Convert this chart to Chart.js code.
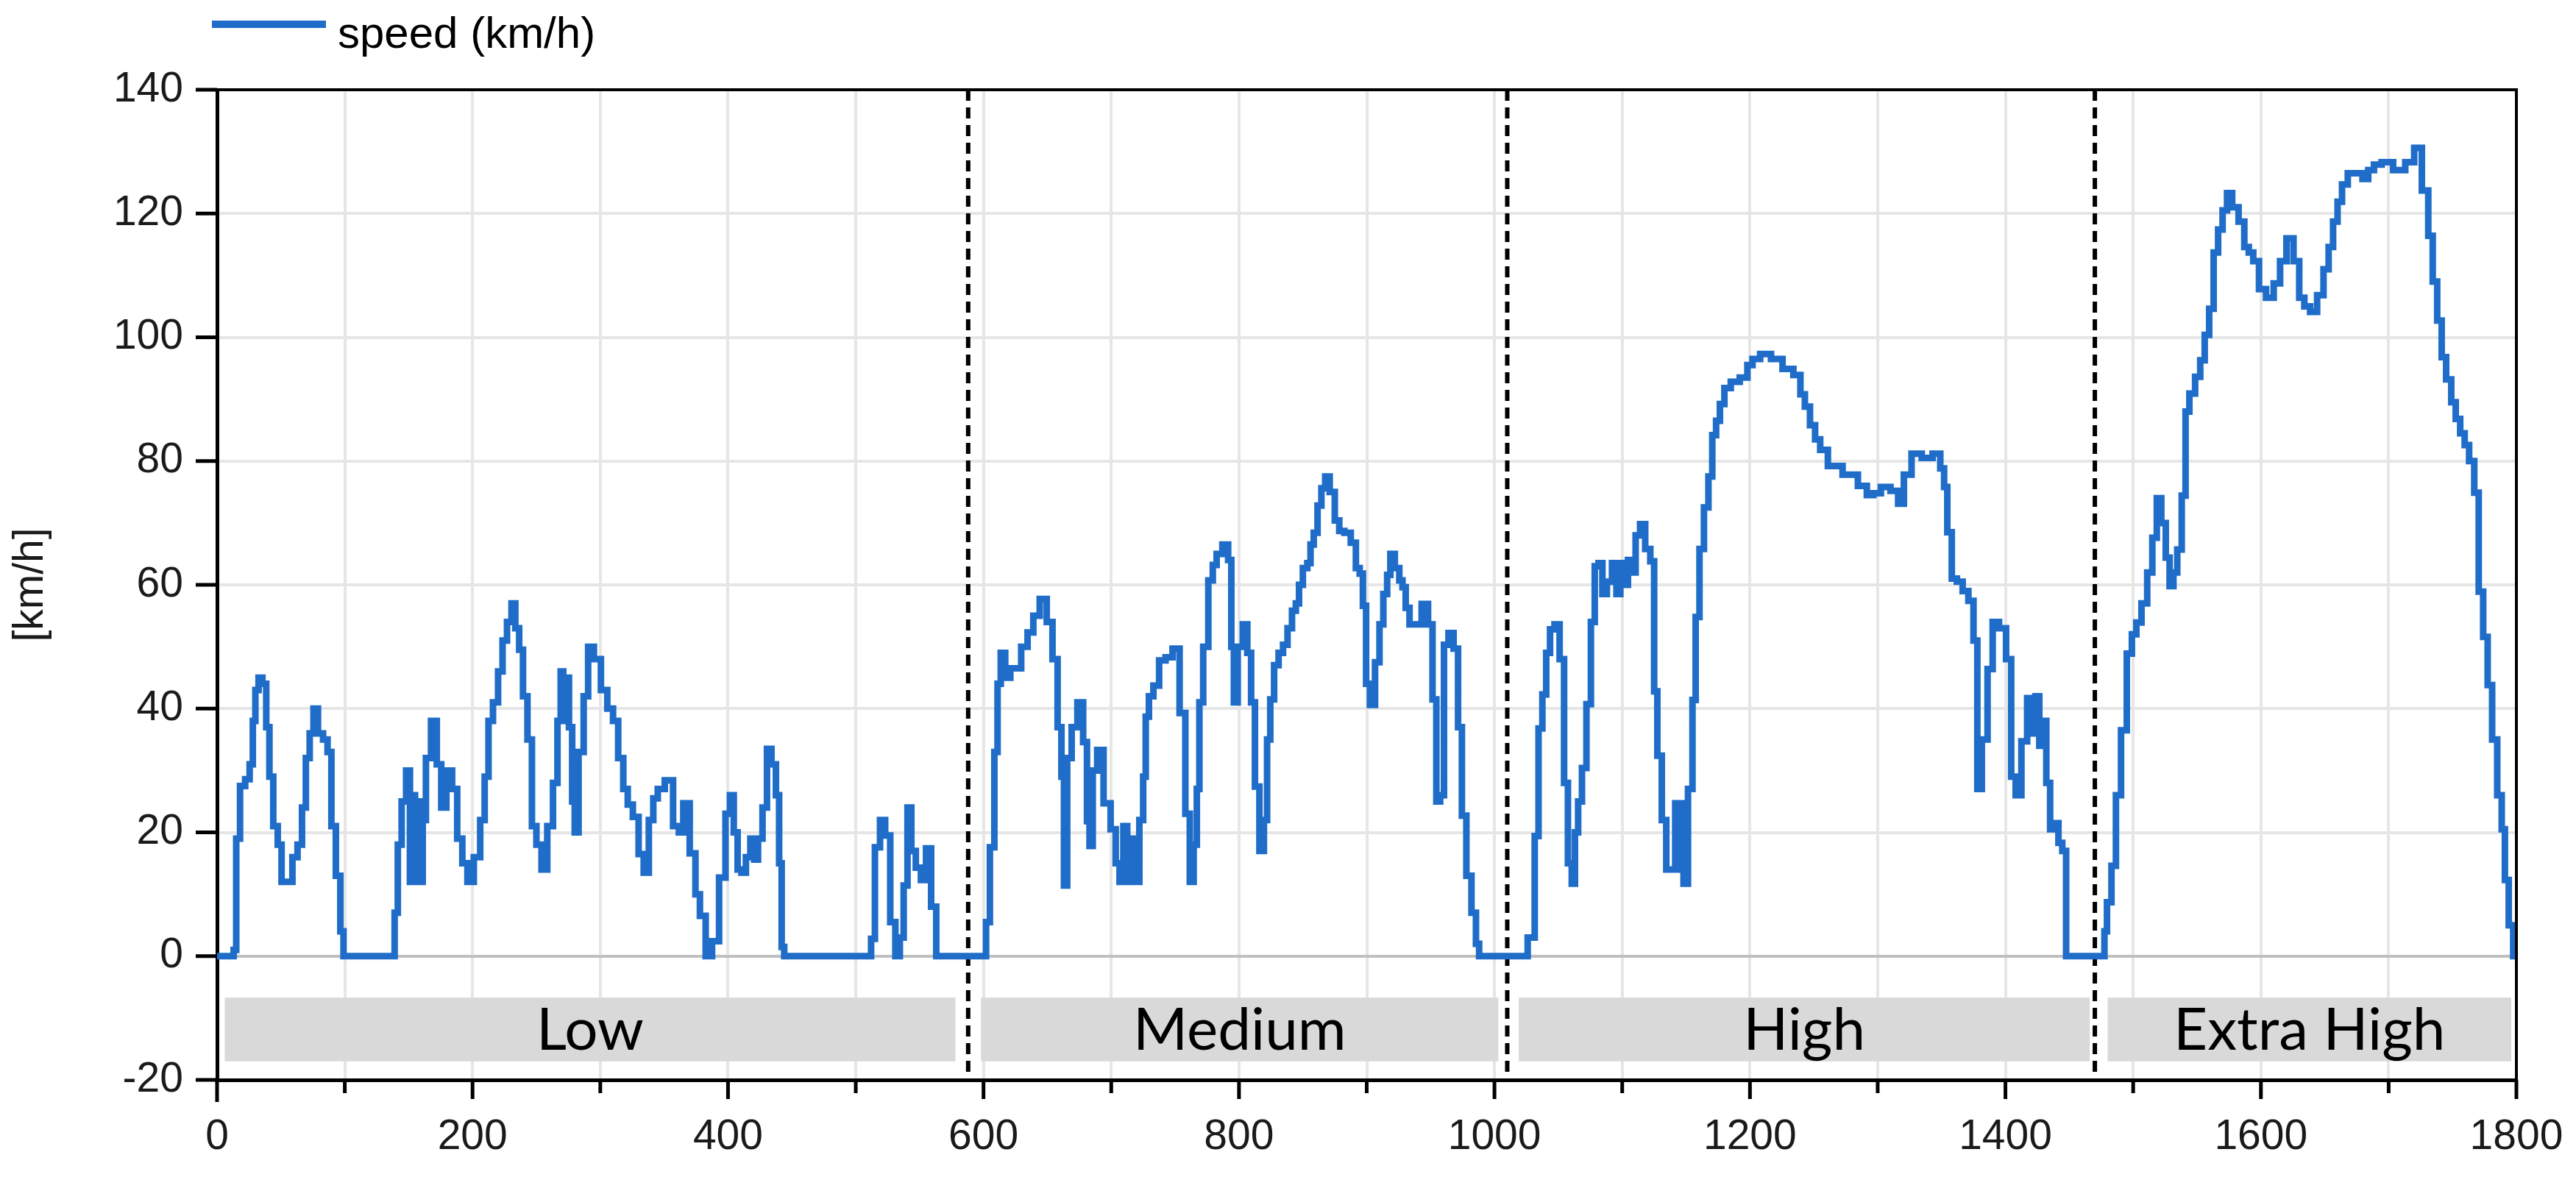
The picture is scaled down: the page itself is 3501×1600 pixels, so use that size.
<!DOCTYPE html>
<html>
<head>
<meta charset="utf-8">
<title>speed (km/h)</title>
<script src="https://cdn.jsdelivr.net/npm/chart.js@4.4.1/dist/chart.umd.min.js"></script>
<style>
  html, body { margin: 0; padding: 0; background: #fff; }
  #wrap { width: 3501px; height: 1600px; }
</style>
</head>
<body>
<div id="wrap"><canvas id="speedChart" width="3501" height="1600"></canvas></div>
<script>
// === DATA (seconds / km/h) ===
const lowTime  = [0, 12, 14, 16, 20, 24, 27, 29, 31, 34, 37, 40, 42, 46, 49, 52, 57, 61, 65, 68, 71, 74, 77, 81, 85, 88, 91, 95, 98, 100,
  138, 140, 143, 146, 150, 152, 154, 156, 158, 160, 162, 165, 170, 174, 177, 182, 186, 190, 194, 198, 204, 208, 211, 214, 218, 222, 225,
  229, 232, 235, 238, 241, 245, 248, 252, 256, 261, 265, 268, 270, 272, 274, 277, 279, 281, 285, 289, 292, 298, 303, 308, 312, 316, 320,
  323, 328, 332, 336, 340, 343, 347, 354, 360, 363, 367, 373, 376, 380, 385, 390, 396, 400, 403, 406, 409, 412, 416, 419, 422, 425, 429,
  432, 436, 439, 441, 443, 445, 511, 513, 517, 521, 525, 529, 533, 536, 539, 542, 545, 549, 553, 557, 561, 565, 589];
const lowSpeed = [0, 0, 1, 19, 27.5, 28.6, 31, 38, 43, 45, 44, 37, 29, 21, 18, 12, 12, 16, 18, 24, 32, 36, 40, 36, 35, 33, 21, 13, 4, 0,
  0, 7, 18, 25, 30, 12, 26, 12, 25, 12, 22, 32, 38, 31, 24, 30, 27, 19, 15, 12, 16, 22, 29, 38, 41, 46, 51,
  54, 57, 53, 49.5, 42, 35, 21, 18, 14, 21, 28, 38, 46, 38, 45, 37, 25, 20, 33, 42, 50, 48, 43, 40, 38, 32, 27,
  24.5, 22.5, 16.5, 13.5, 22, 25.5, 27, 28.4, 21, 20, 24.7, 16.6, 10, 6.5, 0, 2.4, 12.7, 23, 26, 20, 14, 13.5, 16, 19, 15.6, 19, 24,
  33.5, 31, 26, 15, 1.5, 0, 0, 2.8, 17.6, 22, 19.5, 5.5, 0, 3, 11.4, 24, 17, 14.3, 12.3, 17.4, 8, 0, 0];

const mediumTime  = [601, 603, 607, 610, 612, 615, 619, 623, 627, 632, 637, 641, 647, 652, 656, 660, 662, 664, 667, 671, 676, 680, 682,
  684, 687, 691, 697, 702, 705, 708, 711, 714, 717, 720, 724, 726, 728, 731, 735, 740, 745, 751, 756, 760, 763, 766, 768, 770, 774, 778,
  781, 784, 790, 793, 795, 797, 801, 805, 808, 811, 814, 818, 821, 823, 826, 829, 833, 836, 840, 843, 846, 848, 852, 855, 857, 860, 863,
  866, 869, 873, 877, 880, 885, 890, 893, 896, 898, 901, 904, 909, 911, 915, 917, 920, 924, 927, 929, 932, 935, 940, 946, 950, 953, 956,
  959, 962, 966, 970, 973, 976, 980, 984, 987, 989, 1022];
const mediumSpeed = [0, 5.5, 17.6, 33, 44, 49, 45, 46.5, 46.5, 50, 52.3, 55, 57.7, 54, 48, 37, 29, 11.4, 32, 37, 41, 34.6, 21.8,
  17.8, 30, 33.3, 24.7, 20.5, 15, 12, 21, 12, 19, 12, 22, 29, 38.7, 42, 43.7, 47.8, 48.3, 49.7, 39.3, 23, 12, 18, 27, 41, 50, 60.7,
  63.2, 65, 66.5, 64, 50, 41, 50, 53.6, 49, 41, 27.4, 17, 22, 35, 41.5, 47, 49, 50.3, 53, 55.8, 57, 60, 62.7, 63.5, 66.5, 68.4, 72.8,
  75.6, 77.5, 75, 70.4, 68.7, 68.4, 66.8, 62.7, 61.8, 56.6, 44, 40.6, 47.5, 53.6, 58.5, 61.6, 65, 62.7, 60.7, 59.6, 56.3, 53.6, 53.6, 56.9, 53.6, 41.5, 25,
  26, 50.3, 52.2, 49.7, 37, 22.7, 13, 7, 2, 0, 0];

const highTime  = [1030, 1033, 1036, 1039, 1042, 1045, 1049, 1053, 1056, 1059, 1062, 1064, 1067, 1070, 1074, 1077, 1080, 1083, 1086,
  1090, 1094, 1097, 1100, 1103, 1106, 1109, 1112, 1116, 1120, 1124, 1126, 1129, 1133, 1136, 1140, 1143, 1145, 1147, 1149, 1154, 1156,
  1159, 1162, 1166, 1169, 1172, 1175, 1178, 1182, 1188, 1196, 1200, 1204, 1212, 1221, 1230, 1238, 1241, 1245, 1249, 1253, 1257, 1265,
  1280, 1289, 1294, 1299, 1306, 1314, 1318, 1323, 1330, 1339, 1347, 1351, 1353, 1356, 1360, 1364, 1369, 1373, 1377, 1379, 1384, 1388,
  1392, 1398, 1403, 1406, 1410, 1415, 1419, 1422, 1425, 1428, 1431, 1433, 1437, 1440, 1443, 1446, 1449, 1477];
const highSpeed = [3, 19.4, 36.8, 42.3, 49, 52.8, 53.6, 48, 28, 15, 11.7, 20, 25, 30.4, 40.7, 54, 63, 63.5, 58.5,
  60.5, 63.5, 58.5, 63.5, 60, 64, 62, 68, 69.8, 65.8, 63.8, 42.8, 32.4, 22, 14, 14, 24.7, 14, 24.7, 11.7, 27, 41.4,
  54.8, 65.8, 72.5, 77.5, 84.2, 86.5, 89.2, 91.8, 92.8, 93.5, 95.5, 96.5, 97.3, 96.5, 94.9, 93.9, 90.8, 88.8, 85.8, 83.5, 81.8, 79.2,
  77.8, 76, 74.5, 74.8, 75.8, 75.2, 73.1, 77.8, 81.2, 80.5, 81.2, 78.8, 75.8, 68.5, 61, 60.5, 59, 57.4, 51, 27, 35, 46.4,
  54, 53, 48, 29, 26, 34.7, 41.7, 36, 42, 34, 38, 28, 20.5, 21.5, 18.3, 17, 0, 0];

const extraTime  = [1478, 1481, 1485, 1488, 1493, 1497, 1501, 1504, 1509, 1513, 1517, 1520, 1524, 1527, 1530, 1533, 1536, 1540, 1542,
  1546, 1551, 1554, 1558, 1561, 1565, 1568, 1572, 1575, 1580, 1585, 1589, 1592, 1596, 1601, 1607, 1613, 1617, 1623, 1628, 1632, 1636,
  1641, 1647, 1651, 1655, 1658, 1662, 1665, 1671, 1677, 1682, 1686, 1691, 1698, 1709, 1717, 1723, 1729, 1733, 1736, 1740, 1743, 1747,
  1751, 1754, 1758, 1761, 1765, 1769, 1772, 1776, 1779, 1783, 1787, 1790, 1792, 1796, 1799, 1800];
const extraSpeed = [4, 8.7, 14.6, 26, 36.5, 48.9, 52, 53.9, 57, 62, 67.6, 74, 70, 64.4, 59.8, 62, 65.7, 74.4, 88,
  90.9, 93.6, 96.3, 100.4, 104.6, 113.7, 117.4, 120.5, 123.3, 121, 118.7, 114.6, 113.7, 112.3, 107.8, 106.4, 108.7, 112.3, 116, 112.3, 106.4, 105,
  104.1, 106.8, 111, 114.6, 118.7, 121.9, 124.7, 126.5, 126.5, 125.6, 127, 127.9, 128.3, 127, 128.3, 130.6, 123.7, 116.4, 109, 102.7, 96.8, 93.2,
  89.5, 86.8, 84.5, 82.6, 80, 74.9, 58.9, 51.6, 43.8, 35, 26, 20.5, 12.3, 5, 0, 0];

// phases: names, band extents (s) and the dashed boundaries between them
const phaseNames = ['Low', 'Medium', 'High', 'Extra High'];
const phaseFrom  = [6, 598, 1019, 1480];
const phaseTo    = [578, 1003, 1466, 1796];
const phaseLines = [588, 1010, 1470];
const bandTop = -6.7, bandBottom = -17;

const xTickLabels = [0, 200, 400, 600, 800, 1000, 1200, 1400, 1600, 1800];

// === BUILD POINTS ===
const points = [];
[[lowTime, lowSpeed], [mediumTime, mediumSpeed], [highTime, highSpeed], [extraTime, extraSpeed]].forEach(([ts, vs]) => {
  ts.forEach((t, i) => points.push({ x: t, y: vs[i] }));
});

const LINE_BLUE = '#1f6dc8';
const TICK_FONT = { family: "'Liberation Sans', Arial, sans-serif", size: 57 };

// === PHASE BANDS + FRAME + LEGEND ===
const phasePlugin = {
  id: 'phases',
  beforeDatasetsDraw(chart) {
    const { ctx, chartArea: a, scales: { x, y } } = chart;
    ctx.save();
    // grey bands with labels
    const yT = y.getPixelForValue(bandTop), yB = y.getPixelForValue(bandBottom);
    ctx.font = "80px Lato, 'Open Sans', sans-serif";
    ctx.textAlign = 'center';
    ctx.textBaseline = 'alphabetic';
    phaseNames.forEach((name, i) => {
      const x0 = x.getPixelForValue(phaseFrom[i]), x1 = x.getPixelForValue(phaseTo[i]);
      ctx.fillStyle = '#d9d9d9';
      ctx.fillRect(x0, yT, x1 - x0, yB - yT);
      ctx.fillStyle = '#000';
      ctx.fillText(name, (x0 + x1) / 2, (yT + yB) / 2 + 28);
    });
    // dashed phase boundaries
    ctx.strokeStyle = '#000';
    ctx.lineWidth = 6;
    ctx.setLineDash([15, 9]);
    phaseLines.forEach(t => {
      const px = x.getPixelForValue(t);
      ctx.beginPath();
      ctx.moveTo(px, a.top);
      ctx.lineTo(px, a.bottom);
      ctx.stroke();
    });
    ctx.restore();
  },
  afterDraw(chart) {
    const { ctx, chartArea: a, scales: { x, y } } = chart;
    ctx.save();
    ctx.strokeStyle = '#000';
    // top + right frame
    ctx.lineWidth = 4;
    ctx.beginPath();
    ctx.moveTo(a.left, a.top);
    ctx.lineTo(a.right, a.top);
    ctx.lineTo(a.right, a.bottom);
    ctx.stroke();
    // tick marks
    ctx.lineWidth = 5;
    for (let t = 0; t <= 1800; t += 100) {
      const px = x.getPixelForValue(t);
      const len = t === 0 ? 30 : (t % 200 === 0 ? 26 : 18);
      ctx.beginPath();
      ctx.moveTo(px, a.bottom);
      ctx.lineTo(px, a.bottom + len);
      ctx.stroke();
    }
    for (let v = -20; v <= 140; v += 20) {
      const py = y.getPixelForValue(v);
      ctx.beginPath();
      ctx.moveTo(a.left - 29, py);
      ctx.lineTo(a.left, py);
      ctx.stroke();
    }
    // legend
    ctx.strokeStyle = LINE_BLUE;
    ctx.lineWidth = 10;
    ctx.beginPath();
    ctx.moveTo(288, 33);
    ctx.lineTo(443, 33);
    ctx.stroke();
    ctx.fillStyle = '#000';
    ctx.font = "60px 'Liberation Sans', Arial, sans-serif";
    ctx.textAlign = 'left';
    ctx.textBaseline = 'alphabetic';
    ctx.fillText(chart.data.datasets[0].label, 459, 65);
    ctx.restore();
  }
};

// === CHART ===
new Chart(document.getElementById('speedChart'), {
  type: 'line',
  data: {
    datasets: [{
      label: 'speed (km/h)',
      data: points,
      borderColor: LINE_BLUE,
      borderWidth: 9,
      pointRadius: 0,
      stepped: 'middle',
      fill: false
    }]
  },
  options: {
    responsive: false,
    animation: false,
    devicePixelRatio: 1,
    layout: { padding: { left: 0, top: 122, right: 81, bottom: 0 } },
    plugins: { legend: { display: false }, tooltip: { enabled: false } },
    scales: {
      x: {
        type: 'linear', min: 0, max: 1800,
        afterFit: s => { s.height = 132; s.paddingLeft = 0; s.paddingRight = 0; },
        ticks: {
          stepSize: 100, autoSkip: false, maxRotation: 0, padding: 44,
          color: '#1a1a1a', font: TICK_FONT,
          callback: v => xTickLabels.includes(v) ? String(v) : ''
        },
        grid: { color: '#e6e6e6', lineWidth: 4, drawTicks: false },
        border: { display: true, color: '#000', width: 5 }
      },
      y: {
        min: -20, max: 140,
        afterFit: s => { s.width = 295; s.paddingTop = 0; s.paddingBottom = 0; },
        ticks: { stepSize: 20, padding: 46, color: '#1a1a1a', font: TICK_FONT },
        grid: {
          color: c => (c.tick && c.tick.value === 0) ? '#c0c0c0' : '#e6e6e6',
          lineWidth: 4, drawTicks: false
        },
        border: { display: true, color: '#000', width: 5 },
        title: { display: true, text: '[km/h]', color: '#1a1a1a', font: TICK_FONT, padding: { top: 8, bottom: 0 } }
      }
    }
  },
  plugins: [phasePlugin]
});
</script>
</body>
</html>
